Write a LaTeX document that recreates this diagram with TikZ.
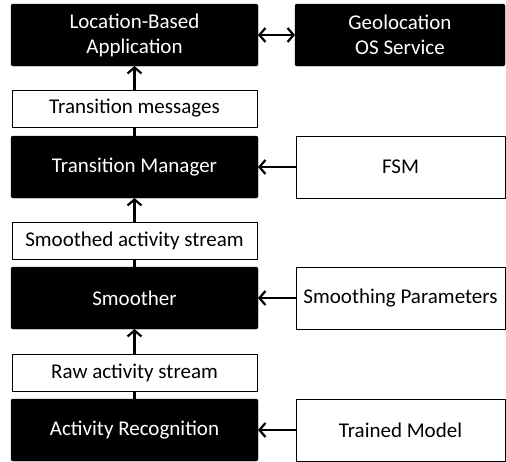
\documentclass[tikz,border=0pt]{standalone}
\usepackage{fontspec}
\setmainfont{Carlito}
\usetikzlibrary{positioning, arrows.meta}

\begin{document}
\begin{tikzpicture}[x=1pt, y=1pt, outer sep=0pt,
    blk/.style={draw, fill=black, text=white, rounded corners=2pt, minimum width=247pt, minimum height=62pt, align=center, font=\fontsize{21}{25}\selectfont},
    side/.style={draw, fill=white, line width=1pt, minimum width=209pt, minimum height=62pt, align=center, font=\fontsize{21}{25}\selectfont},
    msg/.style={draw, fill=white, line width=1pt, minimum width=245pt, minimum height=37pt, font=\fontsize{21}{25}\selectfont},
    barb/.tip={Straight Barb[length=6pt, width=14pt, line width=2.2pt]},
    flow/.style={line width=2.2pt, -barb},
    link/.style={line width=2.2pt}]
    \useasboundingbox (0,0) rectangle (506,-461);

    \node[blk] (app) at (134.5,-35) {Location-Based\\Application};
    \node[blk, minimum width=210pt, right=37pt of app] (geo) {Geolocation\\OS Service};

    \node[msg, below=24pt of app] (messages) {Transition messages};
    \node[blk, below=9pt of messages] (manager) {Transition Manager};
    \node[side, right=38pt of manager] (fsm) {FSM};

    \node[msg, below=24pt of manager] (smoothed) {Smoothed activity stream};
    \node[blk, below=8pt of smoothed] (smoother) {Smoother};
    \node[side, right=38pt of smoother] (params) {Smoothing Parameters};

    \node[msg, below=25pt of smoother] (raw) {Raw activity stream};
    \node[blk, below=8pt of raw] (recognition) {Activity Recognition};
    \node[side, right=38pt of recognition] (model) {Trained Model};

    % upward data flow
    \draw[link] (manager) -- (messages);
    \draw[flow] (messages) -- (app);
    \draw[link] (smoother) -- (smoothed);
    \draw[flow] (smoothed) -- (manager);
    \draw[link] (recognition) -- (raw);
    \draw[flow] (raw) -- (smoother);

    % inputs from the right
    \draw[link, barb-barb] (app) -- (geo);
    \draw[flow] (fsm) -- (manager);
    \draw[flow] (params) -- (smoother);
    \draw[flow] (model) -- (recognition);
\end{tikzpicture}
\end{document}
